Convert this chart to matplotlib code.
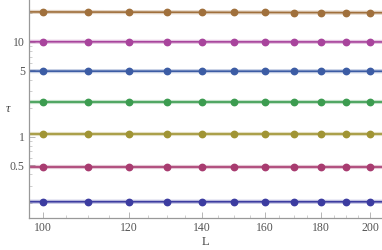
import matplotlib
matplotlib.use("Agg")
import matplotlib.pyplot as plt
import numpy as np
from matplotlib.ticker import FixedLocator, NullFormatter

L = [100, 110, 120, 130, 140, 150, 160, 170, 180, 190, 200]

tau_a = [20.7, 20.7, 20.6, 20.6, 20.5, 20.5, 20.5, 20.4, 20.4, 20.4, 20.3]
tau_b = [10.05, 10.05, 10.0, 10.0, 10.0, 10.0, 10.0, 10.0, 10.0, 10.0, 10.0]
tau_c = [4.93, 4.88, 4.93, 4.9, 4.9, 4.9, 4.9, 4.9, 4.9, 4.9, 4.9]
tau_d = [2.34, 2.34, 2.34, 2.34, 2.34, 2.34, 2.34, 2.34, 2.34, 2.34, 2.34]
tau_e = [1.06, 1.06, 1.06, 1.06, 1.06, 1.06, 1.06, 1.06, 1.06, 1.06, 1.06]
tau_f = [0.481, 0.481, 0.481, 0.481, 0.481, 0.481, 0.481, 0.481, 0.481, 0.481, 0.481]
tau_g = [0.205, 0.205, 0.206, 0.205, 0.205, 0.205, 0.205, 0.205, 0.205, 0.205, 0.205]

series = [tau_a, tau_b, tau_c, tau_d, tau_e, tau_f, tau_g]
colors = ["#a0703c", "#a8449c", "#3c5ca4", "#3c9c50", "#a09434", "#a83c70", "#3c3ca0"]

xticks = [100, 120, 140, 160, 180, 200]
yticks = [0.5, 1, 5, 10]
ytick_labels = ["0.5", "1", "5", "10"]

xlim = (97.1, 205)

plt.rcParams["font.family"] = ["Liberation Serif", "DejaVu Serif"]

fig = plt.figure(figsize=(3.82, 2.5), dpi=100)
ax = fig.add_axes([0.076, 0.129, 0.924, 0.871])

# power-law fit line across the whole axis, points on top
lx = np.log(L)
xfit = np.geomspace(xlim[0], xlim[1], 50)
for vals, c in zip(series, colors):
    k, b = np.polyfit(lx, np.log(vals), 1)
    yfit = np.exp(b + k * np.log(xfit))
    ax.plot(xfit, yfit, color=c, lw=3.0, alpha=0.3, solid_capstyle="butt")
    ax.plot(xfit, yfit, color=c, lw=1.2)
    ax.plot(L, vals, ls="none", marker="o", ms=4.6, mec=c, mfc=c)

ax.set_xscale("log")
ax.set_yscale("log")
ax.set_xlim(*xlim)
ax.set_ylim(0.139, 27.7)

ax.xaxis.set_major_locator(FixedLocator(xticks))
ax.set_xticklabels([str(t) for t in xticks])
ax.xaxis.set_minor_locator(FixedLocator([105, 110, 115, 125, 130, 135, 145, 150, 155,
                                         165, 170, 175, 185, 190, 195]))
ax.xaxis.set_minor_formatter(NullFormatter())

ax.yaxis.set_major_locator(FixedLocator(yticks))
ax.set_yticklabels(ytick_labels)
minor_y = [0.2, 0.3, 0.4, 0.6, 0.7, 0.8, 0.9, 2, 3, 4, 6, 7, 8, 9, 20]
ax.yaxis.set_minor_locator(FixedLocator(minor_y))
ax.yaxis.set_minor_formatter(NullFormatter())

for s in ["top", "right"]:
    ax.spines[s].set_visible(False)
for s in ["left", "bottom"]:
    ax.spines[s].set_color("#999999")
    ax.spines[s].set_linewidth(0.9)

ax.tick_params(which="major", direction="in", length=4, width=0.6, color="#aaaaaa",
               labelsize=8.5, labelcolor="#555555")
ax.tick_params(axis="x", which="major", pad=3)
ax.tick_params(axis="y", which="major", pad=3)
ax.tick_params(which="minor", direction="in", length=2, width=0.5, color="#bbbbbb")

ax.set_xlabel("L", fontsize=9, color="#444444")
ax.xaxis.label.set_va("center")
ax.xaxis.set_label_coords(0.5, -0.112)
ax.set_ylabel("τ", fontsize=9, color="#444444", rotation=0, style="italic")
ax.yaxis.label.set_ha("center")
ax.yaxis.label.set_va("center")
ax.yaxis.set_label_coords(-0.059, 0.5)

fig.savefig("out.png", dpi=100)
